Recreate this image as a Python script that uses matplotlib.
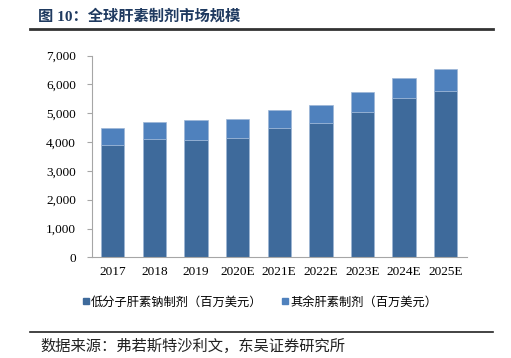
import matplotlib
matplotlib.use("Agg")
import matplotlib.pyplot as plt
from matplotlib.lines import Line2D
from matplotlib.ticker import FuncFormatter, MultipleLocator

categories = ["2017", "2018", "2019", "2020E", "2021E", "2022E", "2023E", "2024E", "2025E"]
lmwh = [3910, 4100, 4070, 4150, 4500, 4650, 5060, 5520, 5790]
totals = [4480, 4700, 4760, 4790, 5130, 5300, 5740, 6230, 6540]
others = [t - l for t, l in zip(totals, lmwh)]
series_names = ["低分子肝素钠制剂（百万美元）", "其余肝素制剂（百万美元）"]
title = "图 10：全球肝素制剂市场规模"
source = "数据来源：弗若斯特沙利文，东吴证券研究所"

plt.rcParams['font.family'] = ['Liberation Serif', 'Noto Sans CJK SC', 'DejaVu Sans']

W, H = 511, 358
fig = plt.figure(figsize=(W / 100, H / 100), dpi=100)
ax = fig.add_axes([92 / W, 1 - 257.3 / H, (466.5 - 92) / W, (257.3 - 55.7) / H])

dark = "#3E6A9B"
light = "#4F81BD"
x = list(range(len(categories)))
ax.bar(x, lmwh, width=0.56, color=dark, edgecolor="#9DB6D6", linewidth=0.5)
ax.bar(x, others, bottom=lmwh, width=0.56, color=light, edgecolor="#9DB6D6", linewidth=0.5)

ax.set_xlim(-0.5, 8.5)
ax.set_ylim(0, 7000)
ax.yaxis.set_major_locator(MultipleLocator(1000))
ax.yaxis.set_major_formatter(FuncFormatter(lambda v, p: f"{int(v):,}"))
ax.set_xticks(x)
ax.set_xticklabels(categories)
for s in ["top", "right"]:
    ax.spines[s].set_visible(False)
for s in ["left", "bottom"]:
    ax.spines[s].set_color("#A6A6A6")
    ax.spines[s].set_linewidth(0.8)
ax.tick_params(axis="y", length=3.5, color="#A6A6A6", labelsize=9.5, pad=8)
ax.tick_params(axis="x", length=0, labelsize=9.5, pad=6)

# legend
h1 = Line2D([], [], marker="s", linestyle="none", markersize=5, color=dark)
h2 = Line2D([], [], marker="s", linestyle="none", markersize=5, color=light)
fig.legend([h1, h2], series_names, loc="center", bbox_to_anchor=(0.508, 1 - 302 / H),
           ncol=2, frameon=False, handlelength=0.6, handletextpad=0.1, columnspacing=1.6,
           prop={'family': ['Noto Sans CJK SC'], 'size': 8.8})

# title
fig.text(38 / W, 1 - 16 / H, title, fontsize=11, fontweight="bold", color="#1F3A60",
         va="center", ha="left", family=['Liberation Serif', 'Noto Sans CJK SC'])
fig.add_artist(Line2D([30 / W, 493 / W], [1 - 29 / H, 1 - 29 / H], color="#333333", linewidth=2))

# source
fig.add_artist(Line2D([30 / W, 493 / W], [1 - 332 / H, 1 - 332 / H], color="#222222", linewidth=1.2))
fig.text(40 / W, 1 - 346 / H, source, fontsize=11, color="#222222", va="center", ha="left",
         family=['Noto Sans CJK SC'])

fig.savefig("out.png", dpi=100)
